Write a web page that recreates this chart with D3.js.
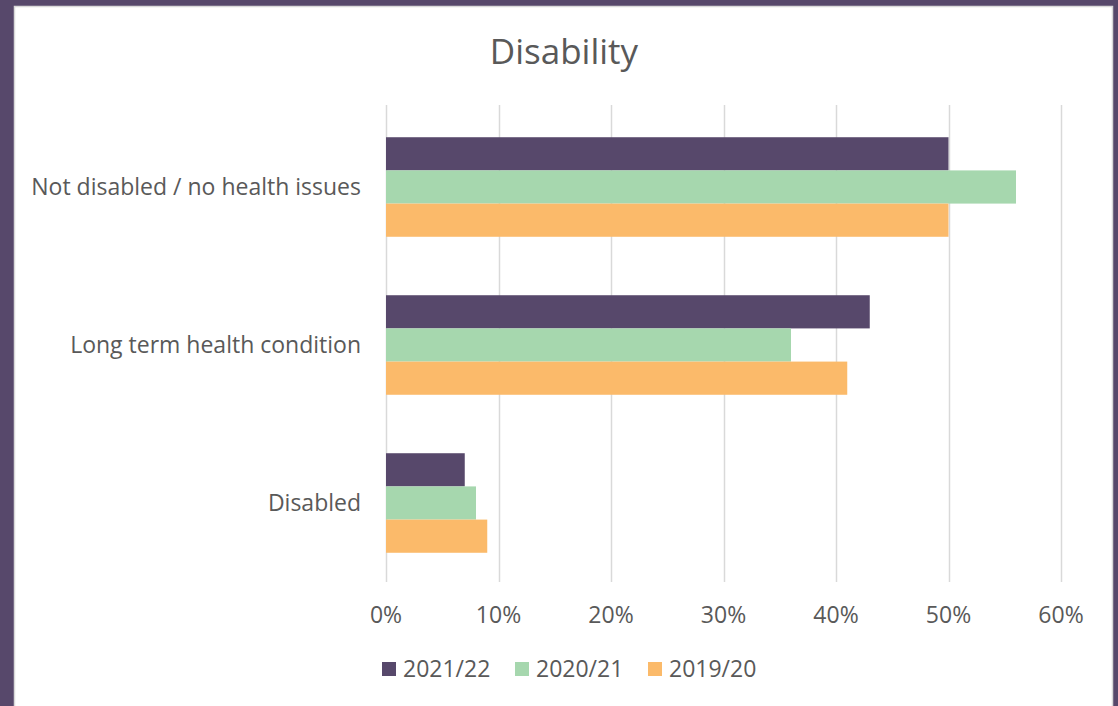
<!DOCTYPE html>
<html>
<head>
<meta charset="utf-8">
<script src="https://cdn.jsdelivr.net/npm/d3@7"></script>
<style>
  html, body { margin: 0; padding: 0; background: #57486b; }
  #chart { width: 1118px; height: 706px; }
</style>
</head>
<body>
<div id="chart"></div>
<script>
const categories = ["Not disabled / no health issues", "Long term health condition", "Disabled"];
const seriesNames = ["2021/22", "2020/21", "2019/20"];
const values2122 = [0.50, 0.43, 0.07];
const values2021 = [0.56, 0.36, 0.08];
const values1920 = [0.50, 0.41, 0.09];
const xTicks = [0, 0.1, 0.2, 0.3, 0.4, 0.5, 0.6];
const colors = ["#57486b", "#a6d7ae", "#fbba6a"];

const series = [values2122, values2021, values1920];

const width = 1118, height = 706;
const font = "'Open Sans', sans-serif";
const textColor = "#595959";

const svg = d3.select("#chart").append("svg")
  .attr("width", width)
  .attr("height", height)
  .style("display", "block");

// purple frame + white card
svg.append("rect").attr("width", width).attr("height", height).attr("fill", "#57486b");
svg.append("rect")
  .attr("x", 14.5).attr("y", 6.5)
  .attr("width", 1098).attr("height", 710)
  .attr("fill", "#fff")
  .attr("stroke", "#d9d9d9")
  .attr("stroke-width", 1.5);

svg.append("text")
  .attr("x", 564).attr("y", 64)
  .attr("text-anchor", "middle")
  .style("font-family", font)
  .style("font-size", "35px")
  .attr("fill", textColor)
  .text("Disability");

const x = d3.scaleLinear().domain([0, 0.6]).range([386, 1061]);
const y = d3.scaleBand().domain(categories).range([108, 582]).paddingInner(0.37).paddingOuter(0.185);
const ySub = d3.scaleBand().domain(seriesNames).range([0, y.bandwidth()]);

// gridlines
svg.append("g")
  .selectAll("line")
  .data(xTicks)
  .join("line")
  .attr("x1", d => Math.round(x(d)) + 0.5)
  .attr("x2", d => Math.round(x(d)) + 0.5)
  .attr("y1", 105)
  .attr("y2", 582)
  .attr("stroke", "#d9d9d9")
  .attr("stroke-width", 1.5);

// bars
const groups = svg.append("g")
  .selectAll("g")
  .data(categories)
  .join("g")
  .attr("transform", d => `translate(0,${y(d)})`);

groups.selectAll("rect")
  .data((c, i) => seriesNames.map((s, j) => ({ s, j, v: series[j][i] })))
  .join("rect")
  .attr("x", x(0))
  .attr("y", d => ySub(d.s))
  .attr("height", ySub.bandwidth())
  .attr("width", d => x(d.v) - x(0))
  .attr("fill", d => colors[d.j]);

// category labels
svg.append("g")
  .selectAll("text")
  .data(categories)
  .join("text")
  .attr("x", 361)
  .attr("y", d => y(d) + y.bandwidth() / 2)
  .attr("dy", "0.35em")
  .attr("text-anchor", "end")
  .style("font-family", font)
  .style("font-size", "23px")
  .attr("fill", textColor)
  .text(d => d);

// x tick labels
svg.append("g")
  .selectAll("text")
  .data(xTicks)
  .join("text")
  .attr("x", d => x(d))
  .attr("y", 615)
  .attr("dy", "0.35em")
  .attr("text-anchor", "middle")
  .style("font-family", font)
  .style("font-size", "23px")
  .attr("fill", textColor)
  .text(d3.format(".0%"));

// legend
const legendX = [382, 515, 648];
const legend = svg.append("g")
  .selectAll("g")
  .data(seriesNames)
  .join("g")
  .attr("transform", (d, i) => `translate(${legendX[i]},669)`);

legend.append("rect")
  .attr("x", 0).attr("y", -7)
  .attr("width", 14).attr("height", 14)
  .attr("fill", (d, i) => colors[i]);

legend.append("text")
  .attr("x", 21)
  .attr("dy", "0.35em")
  .style("font-family", font)
  .style("font-size", "23px")
  .attr("fill", textColor)
  .text(d => d);
</script>
</body>
</html>
